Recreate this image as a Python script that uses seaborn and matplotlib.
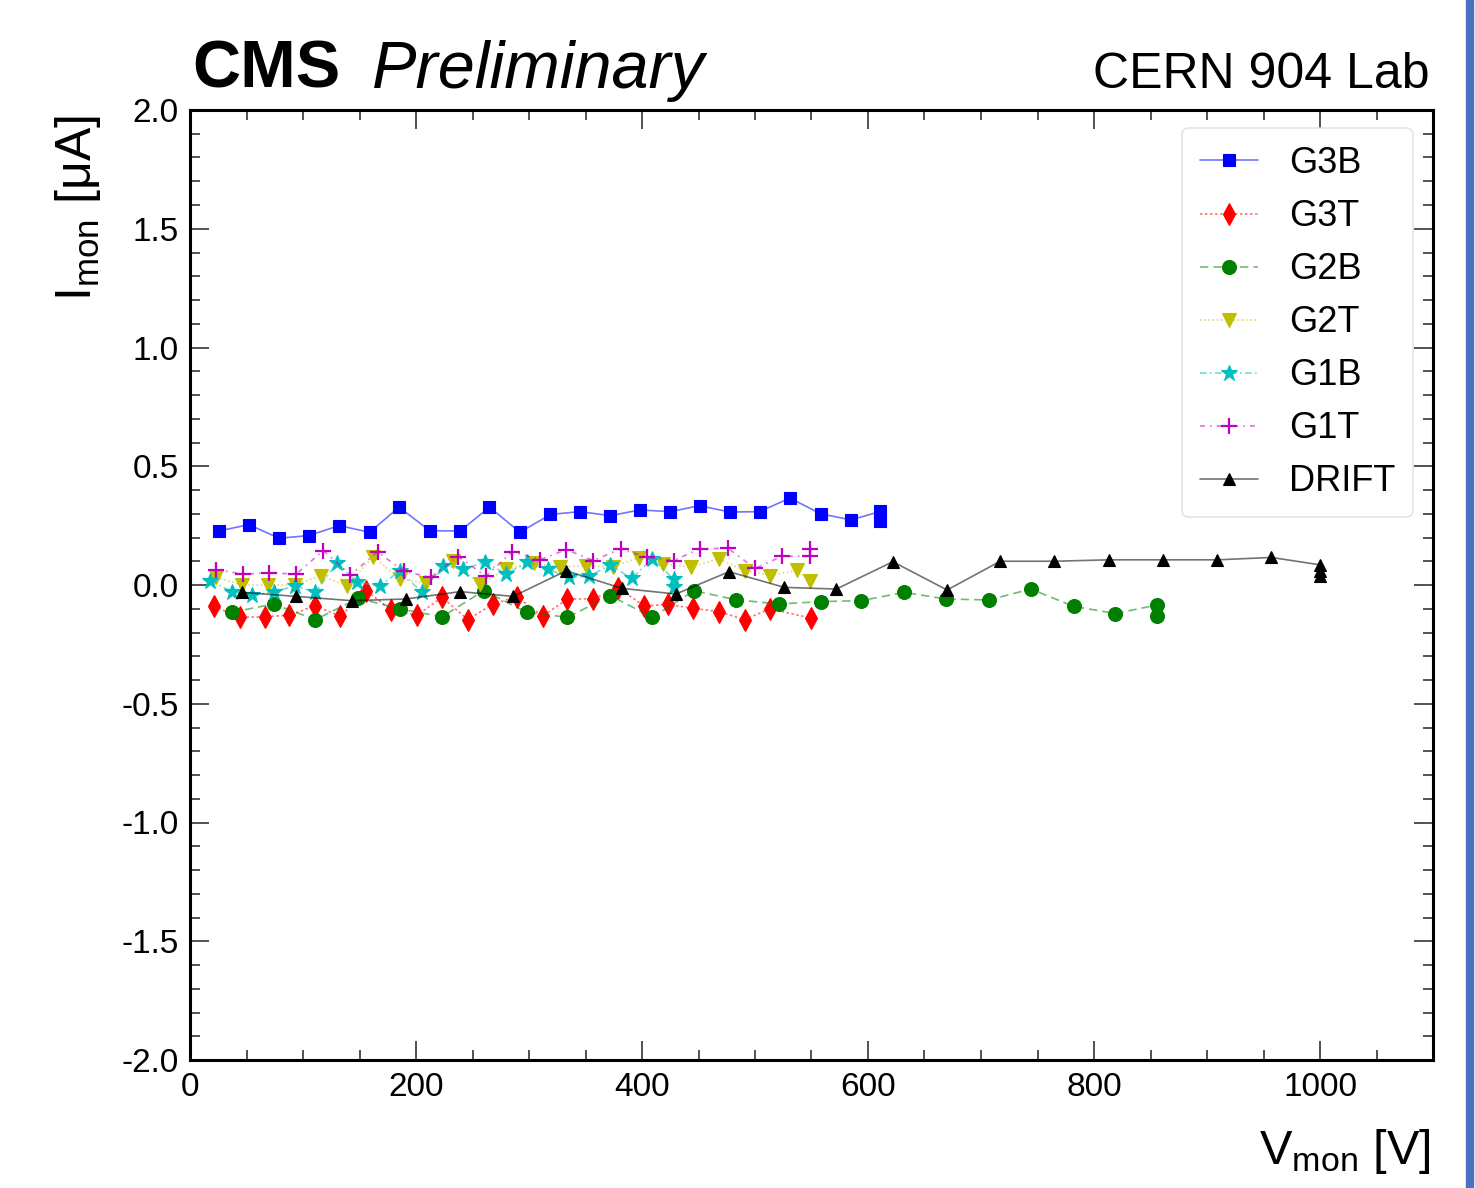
import numpy as np
import pandas as pd
import matplotlib
matplotlib.use("Agg")
import matplotlib.pyplot as plt
from matplotlib.ticker import MultipleLocator
from matplotlib.patches import Rectangle
from matplotlib.colors import to_rgba
import seaborn as sns

g3b_v = [26, 52, 79, 105, 132, 159, 185, 212, 239, 265, 292, 319, 345, 372, 398, 425, 451, 478, 504, 531, 558, 585, 611, 611]
g3b_i = [0.228, 0.254, 0.197, 0.208, 0.25, 0.222, 0.328, 0.229, 0.227, 0.328, 0.222, 0.297, 0.309, 0.292, 0.316, 0.309,
         0.334, 0.307, 0.309, 0.366, 0.30, 0.274, 0.31, 0.27]

g3t_v = [21, 44, 66, 88, 111, 133, 156, 178, 201, 223, 246, 268, 289, 312, 334, 357, 379, 402, 423, 445, 468, 491, 513, 550]
g3t_i = [-0.09, -0.136, -0.134, -0.127, -0.087, -0.132, -0.024, -0.105, -0.127, -0.052, -0.146, -0.08, -0.05, -0.131,
         -0.059, -0.058, -0.013, -0.088, -0.082, -0.098, -0.112, -0.146, -0.10, -0.14]

g2b_v = [37, 74, 111, 149, 186, 223, 260, 298, 334, 372, 409, 446, 483, 521, 558, 594, 632, 669, 707, 744, 782, 819, 856, 856]
g2b_i = [-0.115, -0.08, -0.146, -0.056, -0.101, -0.134, -0.024, -0.115, -0.136, -0.045, -0.136, -0.024, -0.062, -0.08,
         -0.07, -0.066, -0.031, -0.059, -0.063, -0.017, -0.09, -0.12, -0.084, -0.132]

g2t_v = [23, 46, 69, 93, 116, 139, 162, 186, 209, 233, 257, 280, 304, 327, 350, 374, 397, 419, 443, 468, 491, 513, 537, 549]
g2t_i = [0.032, 0.0, 0.0, 0.0, 0.039, -0.003, 0.12, 0.025, 0.008, 0.10, 0.003, 0.067, 0.091, 0.077, 0.08, 0.077, 0.115,
         0.089, 0.075, 0.11, 0.06, 0.04, 0.062, 0.018]

g1b_v = [18, 37, 55, 74, 93, 111, 130, 148, 168, 186, 205, 224, 242, 261, 280, 298, 317, 335, 353, 372, 391, 409, 428, 428]
g1b_i = [0.018, -0.028, -0.042, -0.031, -0.003, -0.031, 0.093, 0.011, -0.003, 0.06, -0.031, 0.081, 0.067, 0.096, 0.046,
         0.096, 0.067, 0.032, 0.037, 0.084, 0.028, 0.11, 0.025, -0.01]

g1t_v = [23, 47, 70, 94, 118, 142, 166, 189, 213, 237, 262, 285, 310, 333, 357, 381, 404, 428, 451, 476, 500, 524, 549, 549]
g1t_i = [0.065, 0.046, 0.051, 0.046, 0.145, 0.042, 0.14, 0.058, 0.032, 0.12, 0.037, 0.14, 0.107, 0.149, 0.103, 0.152,
         0.117, 0.103, 0.152, 0.155, 0.07, 0.121, 0.121, 0.152]

drift_v = [46, 94, 143, 191, 239, 286, 333, 382, 430, 477, 526, 572, 622, 670, 717, 765, 813, 861, 909, 957, 1000, 1000, 1000]
drift_i = [-0.031, -0.048, -0.066, -0.059, -0.028, -0.048, 0.06, -0.014, -0.038, 0.056, -0.01, -0.017, 0.098, -0.021,
           0.10, 0.10, 0.106, 0.106, 0.106, 0.116, 0.085, 0.06, 0.04]

names = ["G3B", "G3T", "G2B", "G2T", "G1B", "G1T", "DRIFT"]
volts = [g3b_v, g3t_v, g2b_v, g2t_v, g1b_v, g1t_v, drift_v]
currents = [g3b_i, g3t_i, g2b_i, g2t_i, g1b_i, g1t_i, drift_i]

# style per series (ROOT-like)
colors = ["#0000ff", "#ff0000", "#008000", "#bfbf00", "#00bfbf", "#bf00bf", "#000000"]
markers = ["s", "d", "o", "v", "*", "+", "^"]
msizes = [9, 11, 10, 10, 12, 11, 9]
linestyles = ["-", (0, (1.5, 1.5)), (0, (5, 3)), (0, (1, 1.5)), (0, (4, 2, 1, 2)), (0, (3, 3, 1, 3)), "-"]

sns.set_style("ticks")
plt.rcParams["font.family"] = ["Liberation Sans", "DejaVu Sans"]
plt.rcParams["mathtext.default"] = "regular"
plt.rcParams["text.color"] = "black"
plt.rcParams["axes.labelcolor"] = "black"
plt.rcParams["xtick.color"] = "black"
plt.rcParams["ytick.color"] = "black"

fig = plt.figure(figsize=(14.75, 11.88), dpi=100)
ax = fig.add_axes([190 / 1475, 1 - 1060 / 1188, 1243 / 1475, 950 / 1188])

for name, v, cur, c, mk, ms, ls in zip(names, volts, currents, colors, markers, msizes, linestyles):
    df = pd.DataFrame({"V": v, "I": cur})
    mew = 1.6 if mk == "+" else 0.8
    sns.lineplot(data=df, x="V", y="I", ax=ax, estimator=None, sort=False,
                 color=to_rgba(c, 0.55), linestyle=ls, linewidth=1.2,
                 marker=mk, markersize=ms, markerfacecolor=c, markeredgecolor=c,
                 markeredgewidth=mew, label=name)

ax.set_xlim(0, 1100)
ax.set_ylim(-2, 2)
ax.xaxis.set_major_locator(MultipleLocator(200))
ax.xaxis.set_minor_locator(MultipleLocator(50))
ax.yaxis.set_major_locator(MultipleLocator(0.5))
ax.yaxis.set_minor_locator(MultipleLocator(0.1))
ax.set_yticks(np.arange(-2, 2.01, 0.5))
ax.set_yticklabels([f"{t:.1f}" for t in np.arange(-2, 2.01, 0.5)])
ax.tick_params(which="both", direction="in", top=True, right=True, labelsize=24, width=1.2, color="#333333")
ax.tick_params(which="major", length=14)
ax.tick_params(which="minor", length=7)
ax.tick_params(axis="x", pad=9)
ax.tick_params(axis="y", pad=8)
for sp in ax.spines.values():
    sp.set_linewidth(2.2)
    sp.set_color("black")

ax.set_xlabel("V$_{mon}$ [V]", fontsize=35, loc="right")
ax.xaxis.set_label_coords(0.998, -0.07)
ax.set_ylabel("I$_{mon}$ [μA]", fontsize=36, loc="top")
ax.yaxis.set_label_coords(-0.07, 0.995)

leg = ax.legend(loc="upper right", bbox_to_anchor=(0.984, 0.981), borderaxespad=0, fontsize=26,
                frameon=True, fancybox=True, edgecolor="#dddddd", handlelength=1.6, handletextpad=0.85,
                labelspacing=0.5, borderpad=0.5, numpoints=1)
leg.get_frame().set_linewidth(1.2)

fig.text(192 / 1475, 1 - 88 / 1188, "CMS", fontsize=48, fontweight="bold", ha="left", va="baseline")
fig.text(372 / 1475, 1 - 88 / 1188, "Preliminary", fontsize=48, fontstyle="italic", ha="left", va="baseline")
fig.text(1430 / 1475, 1 - 88 / 1188, "CERN 904 Lab", fontsize=36, ha="right", va="baseline")

fig.patches.append(Rectangle((1466 / 1475, 0), 7 / 1475, 1, transform=fig.transFigure, color="#4a72c4"))

fig.savefig("out.png", dpi=100)
plt.close(fig)
